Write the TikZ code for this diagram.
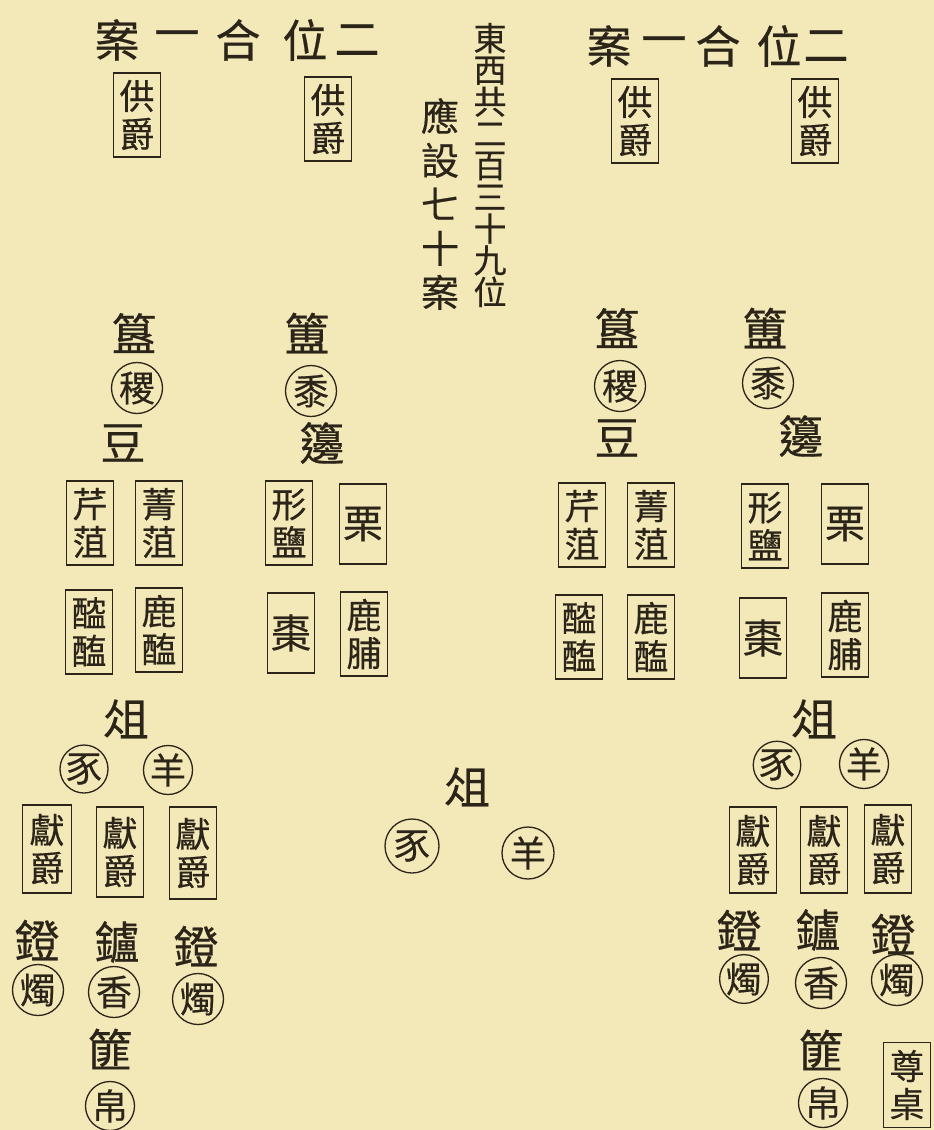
\documentclass[tikz,border=0pt]{standalone}
\usepackage{fontspec}
\newfontfamily\cjk[FakeBold=0.4]{Noto Sans CJK TC}
\definecolor{ink}{HTML}{2B2419}
\definecolor{paper}{HTML}{F3E8B8}
\tikzset{
  bigc/.style={font=\cjk\fontsize{45}{45}\selectfont, inner sep=0pt, text=ink},
  ttl/.style={font=\cjk\fontsize{45}{45}\selectfont, inner sep=0pt, text=ink},
  vcolA/.style={font=\cjk\fontsize{33}{31.75}\selectfont, align=center, inner sep=0pt, text=ink},
  vcolB/.style={font=\cjk\fontsize{38}{44}\selectfont, align=center, inner sep=0pt, text=ink},
  pairbox/.style={draw=ink, line width=1.3pt, minimum width=47pt, minimum height=84pt, inner sep=0pt, align=center, text=ink, font=\cjk\fontsize{35}{38}\selectfont},
  onebox/.style={draw=ink, line width=1.3pt, minimum width=47pt, minimum height=80pt, inner sep=0pt, align=center, text=ink, font=\cjk\fontsize{40}{40}\selectfont},
  ring/.style={draw=ink, circle, line width=1.3pt, minimum size=51pt, inner sep=0pt, text=ink, font=\cjk\fontsize{36}{36}\selectfont}
}
\begin{document}
\begin{tikzpicture}[x=1pt,y=-1pt]
\fill[paper] (0,0) rectangle (934,1130);
\useasboundingbox (0,0) rectangle (934,1130);
% titles
\node[ttl] (tl1) at (117,40) {案};
\node[ttl] (tl2) at (177,40) {一};
\node[ttl] (tl3) at (238,40) {合};
\node[ttl] (tl4) at (305,40) {位};
\node[ttl] (tl5) at (357,40) {二};
\node[ttl] (tr1) at (609,46) {案};
\node[ttl] (tr2) at (664,46) {一};
\node[ttl] (tr3) at (718,46) {合};
\node[ttl] (tr4) at (779,46) {位};
\node[ttl] (tr5) at (826,46) {二};
% central vertical text
\node[vcolA] (colA) at (490,165) {東\\西\\共\\二\\百\\三\\十\\九\\位};
\node[vcolB] (colB) at (440,204) {應\\設\\七\\十\\案};
% jue cups at top
\node[pairbox] (g1) at (137,115) {供\\爵};
\node[pairbox] (g2) at (328,119) {供\\爵};
\node[pairbox] (g3) at (635,121) {供\\爵};
\node[pairbox] (g4) at (815,121) {供\\爵};
% group A
\node[bigc] (a1) at (134,333) {簋};
\node[ring] (a2) at (137,388) {稷};
\node[bigc] (a3) at (123,443) {豆};
\node[pairbox] (a4) at (90,523) {芹\\菹};
\node[pairbox] (a5) at (159,523) {菁\\菹};
\node[pairbox] (a6) at (89,632) {醓\\醢};
\node[pairbox] (a7) at (159,630) {鹿\\醢};
% group B
\node[bigc] (b1) at (307,333) {簠};
\node[ring] (b2) at (311,391) {黍};
\node[bigc] (b3) at (322,443) {籩};
\node[pairbox] (b4) at (289,523) {形\\鹽};
\node[onebox] (b5) at (363,524) {栗};
\node[onebox] (b6) at (291,633) {棗};
\node[pairbox] (b7) at (364,634) {鹿\\脯};
% group C
\node[bigc] (c1) at (617,328) {簋};
\node[ring] (c2) at (620,386) {稷};
\node[bigc] (c3) at (617,438) {豆};
\node[pairbox] (c4) at (582,525) {芹\\菹};
\node[pairbox] (c5) at (651,525) {菁\\菹};
\node[pairbox] (c6) at (579,637) {醓\\醢};
\node[pairbox] (c7) at (651,637) {鹿\\醢};
% group D
\node[bigc] (d1) at (765,328) {簠};
\node[ring] (d2) at (768,383) {黍};
\node[bigc] (d3) at (801,436) {籩};
\node[pairbox] (d4) at (765,526) {形\\鹽};
\node[onebox] (d5) at (845,524) {栗};
\node[onebox] (d6) at (763,638) {棗};
\node[pairbox] (d7) at (845,635) {鹿\\脯};
% bottom left
\node[bigc] (e1) at (126,719) {俎};
\node[ring, minimum size=48pt] (e2) at (84,769) {豕};
\node[ring, minimum size=48pt] (e3) at (168,770) {羊};
\node[pairbox, minimum width=49pt, minimum height=88pt] (e4) at (47,849) {獻\\爵};
\node[pairbox, minimum width=47pt, minimum height=90pt] (e5) at (120,852) {獻\\爵};
\node[pairbox, minimum width=47pt, minimum height=92pt] (e6) at (193,853) {獻\\爵};
\node[bigc] (e7) at (37,940) {鐙};
\node[ring] (e8) at (38,990) {燭};
\node[bigc] (e9) at (117,942) {鑪};
\node[ring] (e10) at (114,992) {香};
\node[bigc] (e11) at (196,946) {鐙};
\node[ring] (e12) at (198,999) {燭};
\node[bigc] (e13) at (110,1049) {篚};
\node[ring, minimum size=48pt] (e14) at (110,1106) {帛};
% centre
\node[bigc] (m1) at (467,787) {俎};
\node[ring, minimum size=54pt] (m2) at (412,846) {豕};
\node[ring, minimum size=52pt] (m3) at (528,853) {羊};
% bottom right
\node[bigc] (f1) at (814,719) {俎};
\node[ring, minimum size=46pt] (f2) at (777,765) {豕};
\node[ring, minimum size=46pt] (f3) at (864,764) {羊};
\node[pairbox, minimum height=86pt] (f4) at (753,850) {獻\\爵};
\node[pairbox, minimum height=86pt] (f5) at (824,850) {獻\\爵};
\node[pairbox, minimum height=88pt] (f6) at (888,849) {獻\\爵};
\node[bigc] (f7) at (739,930) {鐙};
\node[ring, minimum size=47pt] (f8) at (744,979) {燭};
\node[bigc] (f9) at (818,930) {鑪};
\node[ring] (f10) at (821,983) {香};
\node[bigc] (f11) at (893,934) {鐙};
\node[ring] (f12) at (897,980) {燭};
\node[bigc] (f13) at (821,1050) {篚};
\node[ring, minimum size=49pt] (f14) at (823,1103) {帛};
\node[pairbox, minimum height=85pt] (f15) at (907,1085) {尊\\桌};
\end{tikzpicture}
\end{document}
